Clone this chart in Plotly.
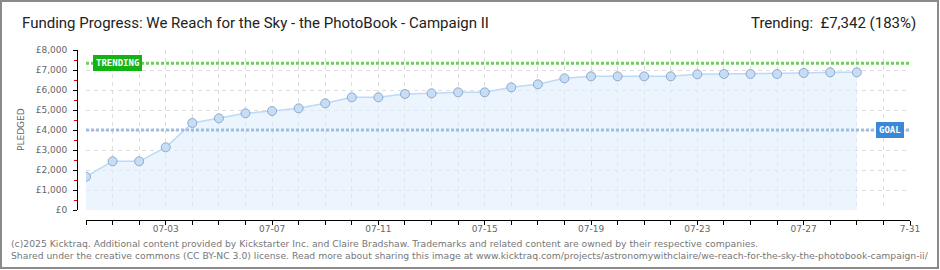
import plotly.graph_objects as go

# ---- data ----
dates = ["2025-06-30", "2025-07-01", "2025-07-02", "2025-07-03", "2025-07-04", "2025-07-05",
         "2025-07-06", "2025-07-07", "2025-07-08", "2025-07-09", "2025-07-10", "2025-07-11",
         "2025-07-12", "2025-07-13", "2025-07-14", "2025-07-15", "2025-07-16", "2025-07-17",
         "2025-07-18", "2025-07-19", "2025-07-20", "2025-07-21", "2025-07-22", "2025-07-23",
         "2025-07-24", "2025-07-25", "2025-07-26", "2025-07-27", "2025-07-28", "2025-07-29"]
pledged = [1665, 2435, 2435, 3135, 4350, 4583, 4833, 4950, 5083, 5333, 5633, 5633,
           5800, 5833, 5883, 5883, 6133, 6283, 6583, 6683, 6683, 6683, 6683, 6783,
           6800, 6800, 6800, 6850, 6883, 6883]
goal = 4000
trending = 7342

x_tick_dates = ["2025-06-30", "2025-07-01", "2025-07-02", "2025-07-03", "2025-07-04", "2025-07-05",
                "2025-07-06", "2025-07-07", "2025-07-08", "2025-07-09", "2025-07-10", "2025-07-11",
                "2025-07-12", "2025-07-13", "2025-07-14", "2025-07-15", "2025-07-16", "2025-07-17",
                "2025-07-18", "2025-07-19", "2025-07-20", "2025-07-21", "2025-07-22", "2025-07-23",
                "2025-07-24", "2025-07-25", "2025-07-26", "2025-07-27", "2025-07-28", "2025-07-29",
                "2025-07-30", "2025-07-31"]
x_tick_labels = ["", "", "", "07-03", "", "", "", "07-07", "", "", "", "07-11", "", "", "",
                 "07-15", "", "", "", "07-19", "", "", "", "07-23", "", "", "", "07-27", "", "",
                 "", "7-31"]
y_ticks = [0, 1000, 2000, 3000, 4000, 5000, 6000, 7000, 8000]
y_tick_labels = ["£0", "£1,000", "£2,000", "£3,000", "£4,000", "£5,000", "£6,000", "£7,000", "£8,000"]
y_minor = [500, 1500, 2500, 3500, 4500, 5500, 6500, 7500]

title_text = "Funding Progress: We Reach for the Sky - the PhotoBook - Campaign II"
trend_text = "Trending:  £7,342 (183%)"
footer1 = "(c)2025 Kicktraq. Additional content provided by Kickstarter Inc. and Claire Bradshaw. Trademarks and related content are owned by their respective companies."
footer2 = "Shared under the creative commons (CC BY-NC 3.0) license. Read more about sharing this image at www.kicktraq.com/projects/astronomywithclaire/we-reach-for-the-sky-the-photobook-campaign-ii/"

# ---- layout geometry ----
W, H = 940, 270
ML, MR, MT, MB = 77, 30, 50, 50
PW = W - ML - MR
PH = H - MT - MB


def px(x):
    return (x - ML) / PW


def py(y):
    return (H - MB - y) / PH


fig = go.Figure()

fig.add_trace(go.Scatter(
    x=dates, y=pledged, mode="lines+markers",
    line=dict(color="#bcd9f6", width=1.5),
    fill="tozeroy", fillcolor="rgba(224,236,251,0.6)",
    marker=dict(size=9, color="#c6ddf6", line=dict(color="#8eaacc", width=1)),
    hoverinfo="skip", showlegend=False,
))

tick_font = dict(family="DejaVu Sans", size=9, color="#666")

fig.update_layout(
    width=W, height=H,
    margin=dict(l=ML, r=MR, t=MT, b=MB),
    paper_bgcolor="white", plot_bgcolor="white",
    xaxis=dict(
        type="date", range=["2025-06-30", "2025-07-31"],
        domain=[px(86), 1], anchor="free", position=0,
        tickmode="array", tickvals=x_tick_dates, ticktext=x_tick_labels,
        showline=True, linecolor="black", linewidth=1,
        ticks="outside", ticklen=4, tickcolor="black",
        showgrid=True, gridcolor="#dedede", griddash="4px,4px", gridwidth=1,
        zeroline=False, tickfont=tick_font, ticklabelstandoff=-4,
    ),
    yaxis=dict(
        range=[0, 8000], domain=[py(210), 1], anchor="free", position=0,
        tickmode="array", tickvals=y_ticks, ticktext=y_tick_labels,
        showline=True, linecolor="black", linewidth=1,
        ticks="outside", ticklen=4, tickcolor="black",
        minor=dict(tickmode="array", tickvals=y_minor, ticks="outside", ticklen=3,
                   tickcolor="#e00000", showgrid=False),
        showgrid=True, gridcolor="#dedede", griddash="4px,4px", gridwidth=1,
        zeroline=False, tickfont=tick_font, ticklabelstandoff=4,
    ),
)

# goal and trending lines
fig.add_shape(type="line", xref="x domain", yref="y", x0=0, x1=1, y0=goal, y1=goal,
              line=dict(color="#9dbde3", width=3, dash="3px,2px"))
fig.add_shape(type="line", xref="x domain", yref="y", x0=0, x1=1, y0=trending, y1=trending,
              line=dict(color="#6ccf5c", width=3, dash="3px,2px"))

# border
fig.add_shape(type="rect", xref="paper", yref="paper",
              x0=px(1), x1=px(938), y0=py(268), y1=py(1),
              line=dict(color="#8a8a8a", width=2), fillcolor="rgba(0,0,0,0)", layer="above")

# labels
fig.add_annotation(xref="paper", yref="y", x=px(93), y=trending, xanchor="left", yanchor="middle",
                   text="<b>TRENDING</b>", showarrow=False, bgcolor="#14b214",
                   font=dict(family="DejaVu Sans Mono", size=9, color="white"),
                   borderpad=2, bordercolor="#14b214", borderwidth=1)
fig.add_annotation(xref="paper", yref="y", x=px(904), y=goal, xanchor="right", yanchor="middle",
                   text="<b>GOAL</b>", showarrow=False, bgcolor="#3b88d6",
                   font=dict(family="DejaVu Sans Mono", size=9, color="white"),
                   borderpad=2, bordercolor="#3b88d6", borderwidth=1)

fig.add_annotation(xref="paper", yref="paper", x=px(21), y=py(130), text="PLEDGED",
                   textangle=-90, showarrow=False, xanchor="center", yanchor="middle",
                   font=dict(family="DejaVu Sans", size=9, color="#666"))

fig.add_annotation(xref="paper", yref="paper", x=px(20), y=py(23), text=title_text,
                   showarrow=False, xanchor="left", yanchor="middle",
                   font=dict(family="Roboto", size=15, color="#222"))
fig.add_annotation(xref="paper", yref="paper", x=px(918), y=py(23), text=trend_text,
                   showarrow=False, xanchor="right", yanchor="middle",
                   font=dict(family="Roboto", size=15, color="#222"))

fig.add_annotation(xref="paper", yref="paper", x=px(9), y=py(243), text=footer1,
                   showarrow=False, xanchor="left", yanchor="middle",
                   font=dict(family="DejaVu Sans", size=9.25, color="#777"))
fig.add_annotation(xref="paper", yref="paper", x=px(9), y=py(255), text=footer2,
                   showarrow=False, xanchor="left", yanchor="middle",
                   font=dict(family="DejaVu Sans", size=9.25, color="#777"))

fig.write_html("out.html")
